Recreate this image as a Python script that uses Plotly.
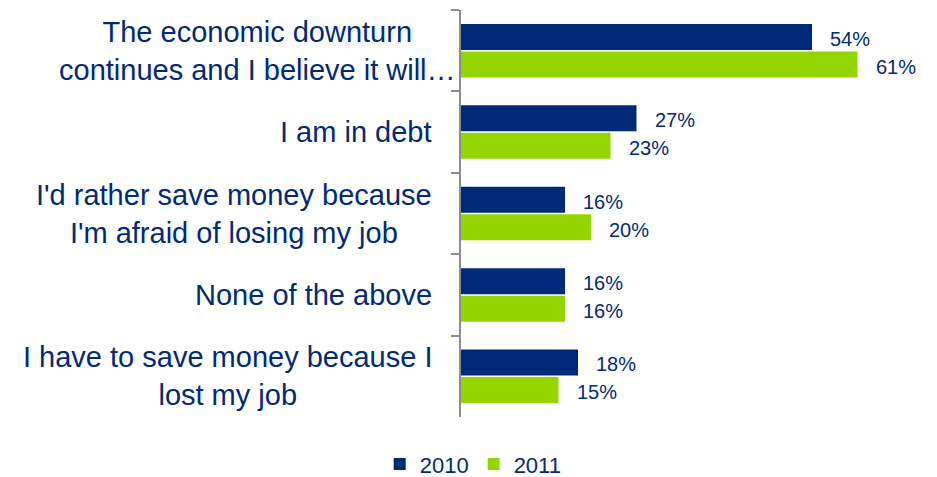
import plotly.graph_objects as go

# Survey answers (reasons for saving) and share of respondents, %
categories = [
    "The economic downturn<br>continues and I believe it will…",
    "I am in debt",
    "I'd rather save money because<br>I'm afraid of losing my job",
    "None of the above",
    "I have to save money because I<br>lost my job",
]
years = ["2010", "2011"]
values_2010 = [54, 27, 16, 16, 18]
values_2011 = [61, 23, 20, 16, 15]

NAVY = "#002A78"
GREEN = "#94D500"
AXIS_GREY = "#8C8C8C"
FONT = "Liberation Sans, Arial, sans-serif"

W, H = 937, 477
M_L, M_R, M_T, M_B = 461, 26, 10, 60
PX_PER_PCT = 6.5
x_max = (W - M_L - M_R) / PX_PER_PCT

fig = go.Figure()
for name, vals, col in [(years[0], values_2010, NAVY), (years[1], values_2011, GREEN)]:
    fig.add_trace(go.Bar(
        name=name,
        x=vals,
        y=categories,
        orientation="h",
        marker=dict(color=col, line=dict(width=0)),
        hoverinfo="skip",
    ))

# value labels to the right of each bar
for vals, yshift in [(values_2010, 12), (values_2011, -16)]:
    for cat, v in zip(categories, vals):
        fig.add_annotation(
            x=v, y=cat, xref="x", yref="y",
            text=f"{v}%", showarrow=False,
            xanchor="left", yanchor="middle",
            xshift=16, yshift=yshift,
            font=dict(family=FONT, size=20, color=NAVY),
        )

# category labels: centred lines, right-aligned blocks
for i, cat in enumerate(categories):
    shift = -27 if i > 0 else -3
    fig.add_annotation(
        x=0, y=cat, xref="paper", yref="y",
        text=cat, showarrow=False,
        xanchor="right", yanchor="middle", align="center",
        xshift=shift,
        font=dict(family=FONT, size=29, color=NAVY),
    )

fig.update_layout(
    width=W, height=H,
    margin=dict(l=M_L, r=M_R, t=M_T, b=M_B),
    paper_bgcolor="white", plot_bgcolor="white",
    barmode="group", bargap=0.324, bargroupgap=0.055,
    showlegend=True,
    legend=dict(
        orientation="h", xref="container", yref="container",
        x=0.505, xanchor="center", y=0.027, yanchor="middle",
        font=dict(family=FONT, size=22, color=NAVY),
        itemwidth=30, traceorder="normal",
        bgcolor="rgba(0,0,0,0)",
    ),
    font=dict(family=FONT, color=NAVY),
)
fig.update_xaxes(
    range=[0, x_max], visible=False, showgrid=False, zeroline=False,
)
fig.update_yaxes(
    autorange=False, range=[len(categories) - 0.5, -0.5],
    showline=True, linecolor=AXIS_GREY, linewidth=2,
    ticks="outside", tickson="boundaries", ticklen=8,
    tickcolor=AXIS_GREY, tickwidth=2,
    showticklabels=False, showgrid=False, zeroline=False,
)

fig.write_html("out.html")
